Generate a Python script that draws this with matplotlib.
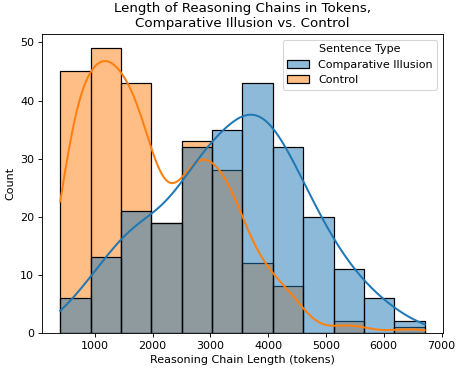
import numpy as np
import pandas as pd
import matplotlib
matplotlib.use("Agg")
import matplotlib.pyplot as plt
import seaborn as sns

# histogram: 12 bins between ~400 and ~6710 tokens
bin_lo, bin_hi = 400, 6710
n_bins = 12
illusion_counts = [6, 13, 21, 19, 32, 35, 43, 32, 20, 11, 6, 2]
control_counts = [45, 49, 43, 19, 33, 28, 12, 8, 0, 2, 0, 1]
types = ["Comparative Illusion", "Control"]

edges = np.linspace(bin_lo, bin_hi, n_bins + 1)
centers = (edges[:-1] + edges[1:]) / 2

df = pd.DataFrame({
    "length": np.concatenate([centers, centers]),
    "count": illusion_counts + control_counts,
    "Sentence Type": [types[0]] * n_bins + [types[1]] * n_bins,
})

fig = plt.figure(figsize=(458 / 80, 369 / 80), dpi=80)
ax = fig.add_axes([0.0917, 0.0976, 0.8755, 0.8103])

# control first, illusion on top (same order seaborn uses for layered hues)
# separate calls so each group gets its own kde bandwidth
for name, bw, show_legend in [(types[1], 0.40, False), (types[0], 0.52, True)]:
    sns.histplot(data=df[df["Sentence Type"] == name], x="length", weights="count",
                 hue="Sentence Type", hue_order=types, bins=n_bins,
                 binrange=(bin_lo, bin_hi), kde=True, linewidth=1.1,
                 kde_kws={"cut": 3, "clip": (bin_lo, bin_hi), "bw_adjust": bw},
                 line_kws={"linewidth": 1.8}, legend=show_legend, ax=ax)

ax.set_xlabel("Reasoning Chain Length (tokens)")
ax.set_ylabel("Count")
ax.set_title("Length of Reasoning Chains in Tokens,\nComparative Illusion vs. Control")
plt.savefig("out.png", dpi=80)
